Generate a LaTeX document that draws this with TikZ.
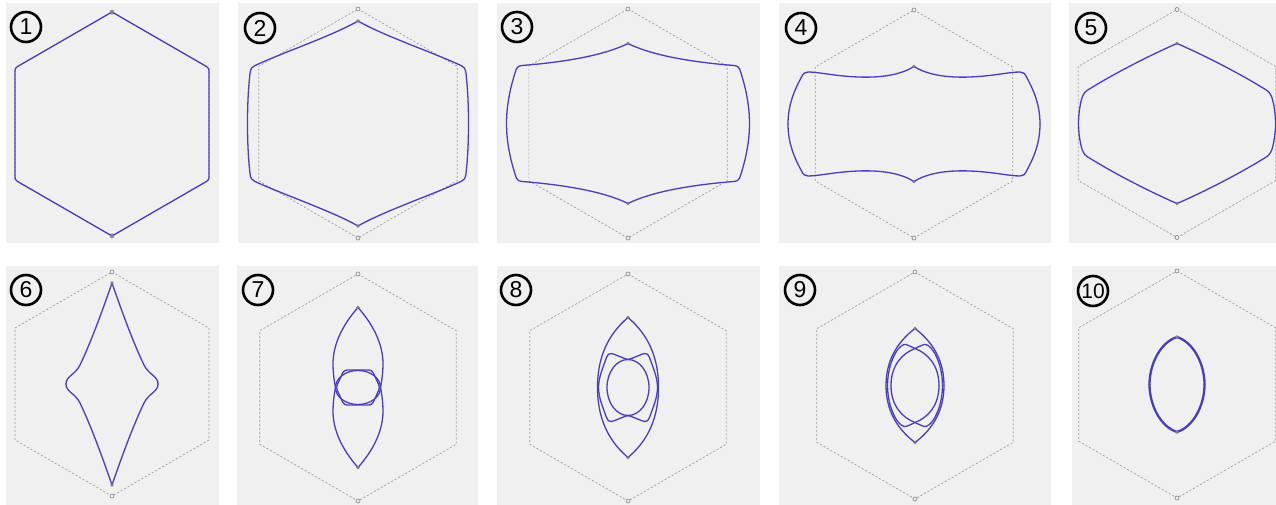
\documentclass[tikz,border=0pt]{standalone}
\usepackage{fontspec}
\setmainfont{Liberation Sans}
\definecolor{panelbg}{HTML}{F0F0F0}
\definecolor{curveblue}{HTML}{4A3CC2}
\definecolor{hexgray}{HTML}{9A9A9A}
\definecolor{markgray}{HTML}{808080}
\tikzset{
  panel/.style={fill=panelbg, draw=none},
  hexline/.style={draw=hexgray, line width=0.7pt, dash pattern=on 2pt off 2pt},
  bluecurve/.style={draw=curveblue, line width=1.3pt, line cap=round, line join=round},
  vmark/.style={draw=markgray, line width=0.6pt, fill=panelbg},
  cmark/.style={fill=markgray, draw=none},
  numlabel/.style={circle, draw=black, line width=2.6pt, minimum size=30pt, inner sep=0pt, font=\fontsize{23}{23}\selectfont},
}
\newcommand\dashhex[1]{%
  \draw[hexline] (0,-#1) -- ({0.866*#1},{-0.5*#1}) -- ({0.866*#1},{0.5*#1}) -- (0,#1) -- ({-0.866*#1},{0.5*#1}) -- ({-0.866*#1},{-0.5*#1}) -- cycle;
  \draw[vmark] (0,-#1) circle[radius=2];
  \draw[vmark] (0,#1) circle[radius=2];
}
\newcommand\tipmarks[1]{%
  \fill[cmark] (0,-#1) circle[radius=1.8];
  \fill[cmark] (0,#1) circle[radius=1.8];
}
\newcommand\fourfold[2][]{%
  \foreach \sx/\sy in {1/1,-1/1,1/-1,-1/-1}{\draw[bluecurve,#1,xscale=\sx,yscale=\sy] #2;}%
}
\begin{document}
\begin{tikzpicture}[x=1pt,y=-1pt]
\useasboundingbox (0,0) rectangle (1276,505);
\fill[white] (0,0) rectangle (1276,505);
% panels
\fill[panel] (6,3) rectangle (219,243);
\fill[panel] (238,3) rectangle (478,243);
\fill[panel] (497,3) rectangle (760,243);
\fill[panel] (779,3) rectangle (1051,243);
\fill[panel] (1069,3) rectangle (1276,243);
\fill[panel] (6,266) rectangle (219,505);
\fill[panel] (237,266) rectangle (478,505);
\fill[panel] (497,266) rectangle (760,505);
\fill[panel] (779,266) rectangle (1051,505);
\fill[panel] (1072,266) rectangle (1276,505);

% panel 1
\begin{scope}[shift={(112,124)}]
  \dashhex{112}
  \draw[bluecurve, rounded corners=2.5pt] (0,-112) -- (97,-56) -- (97,56) -- (0,112) -- (-97,56) -- (-97,-56) -- cycle;
  \tipmarks{112}
\end{scope}

% panel 2
\begin{scope}[shift={(358,123.5)}]
  \dashhex{114.5}
  \fourfold{(0,-102.5) .. controls (25,-88) and (75,-71) .. (103,-58) .. controls (106,-56.8) and (107.5,-55) .. (108,-50) .. controls (110,-32) and (110.5,-15) .. (110.5,0)}
  \tipmarks{102.5}
\end{scope}

% panel 3
\begin{scope}[shift={(628,123.5)}]
  \dashhex{114.5}
  \fourfold{(0,-80) .. controls (20,-70) and (55,-62) .. (106,-58) .. controls (109.5,-57.7) and (111.5,-56) .. (112.5,-52) .. controls (117,-38) and (121.5,-20) .. (121.5,0)}
  \tipmarks{80}
\end{scope}

% panel 4
\begin{scope}[shift={(914,124)}]
  \dashhex{114}
  \fourfold{(0,-57.5) .. controls (12,-50) and (30,-46) .. (56,-47) .. controls (80,-48) and (95,-52) .. (106,-52) .. controls (109,-52) and (111,-50.5) .. (112.5,-47) .. controls (119,-35) and (126,-20) .. (126,0)}
  \tipmarks{57.5}
\end{scope}

% panel 5
\begin{scope}[shift={(1177,123.5)}]
  \dashhex{114}
  \fourfold{(0,-80) .. controls (12,-75) and (55,-55) .. (90,-33) .. controls (93,-31) and (95,-27) .. (96,-22) .. controls (98,-13) and (98.5,-6) .. (98.5,0)}
  \tipmarks{80}
\end{scope}

% panel 6
\begin{scope}[shift={(112,384)}]
  \dashhex{112}
  \fourfold{(0,-101) .. controls (8,-78) and (20,-44) .. (32,-19) .. controls (37,-9) and (46,-8) .. (46,0)}
  \tipmarks{101}
\end{scope}

% panel 7
\begin{scope}[shift={(358,387.5)}]
  \dashhex{113.5}
  \fourfold{(0,-80) .. controls (16,-62) and (25.5,-42) .. (25,-22) .. controls (24.7,-12) and (23.5,-5) .. (22.5,0)}
  \draw[bluecurve] (0,0) ellipse[x radius=22.5, y radius=17];
  \draw[bluecurve, rounded corners=3pt] (-22,0) -- (-14,-17.5) -- (14,-17.5) -- (22,0) -- (14,17.5) -- (-14,17.5) -- cycle;
  \tipmarks{80}
\end{scope}

% panel 8
\begin{scope}[shift={(628,387.5)}]
  \dashhex{113.5}
  \fourfold{(0,-70) .. controls (14,-58) and (30.5,-38) .. (30.5,0)}
  \draw[bluecurve] (0,0) ellipse[x radius=21, y radius=28];
  \fourfold{(0,-28) .. controls (6,-29.5) and (12,-33) .. (16.5,-34) .. controls (19,-34.4) and (20.5,-33) .. (21.5,-30) .. controls (25,-20) and (29.5,-10) .. (29.5,0)}
  \tipmarks{70}
\end{scope}

% panel 9
\begin{scope}[shift={(915,385.5)}]
  \dashhex{113.5}
  \fourfold{(0,-57) .. controls (13,-47) and (29,-30) .. (29,0)}
  \fourfold{(0,-37) .. controls (3,-38) and (6,-40.5) .. (9,-41) .. controls (12,-41.5) and (15,-39) .. (18,-35) .. controls (24,-26) and (27.5,-13) .. (27.5,0)}
  \fourfold{(0,-37) .. controls (13,-32) and (24,-20) .. (24,0)}
  \tipmarks{57}
\end{scope}

% panel 10
\begin{scope}[shift={(1177,384.5)}]
  \dashhex{113.5}
  \fourfold[line width=2.3pt]{(0,-47.5) .. controls (17,-42) and (27.5,-20) .. (27.5,0)}
  \tipmarks{47.5}
\end{scope}

% labels
\node[numlabel] (l1) at (26,27) {1};
\node[numlabel] (l2) at (260,28) {2};
\node[numlabel] (l3) at (517,27) {3};
\node[numlabel] (l4) at (801,28) {4};
\node[numlabel] (l5) at (1091,28) {5};
\node[numlabel] (l6) at (26,290) {6};
\node[numlabel] (l7) at (258,290) {7};
\node[numlabel] (l8) at (516,290) {8};
\node[numlabel] (l9) at (800,290) {9};
\node[numlabel, font=\fontsize{21}{21}\selectfont] (l10) at (1093,291) {10};
\end{tikzpicture}
\end{document}
